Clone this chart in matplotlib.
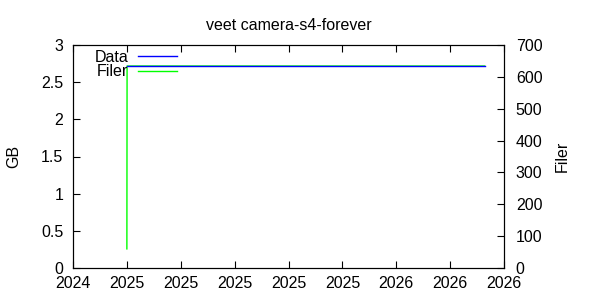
import numpy as np
import pandas as pd
import matplotlib
matplotlib.use('Agg')
import matplotlib.pyplot as plt
import matplotlib.dates as mdates

plt.rcParams['font.family'] = ['Liberation Sans', 'DejaVu Sans']
FONTSIZE = 11.5

TITLE = 'veet camera-s4-forever'
# sample times and values
dates = pd.to_datetime(['2025-02-17 00:00', '2025-02-17 06:00', '2026-04-18 00:00'])
data_gb = [2.72, 2.72, 2.72]
filer_count = [60, 634, 634]

# gnuplot-like x axis: 9 evenly spaced ticks, labelled with the year only
x_start = pd.Timestamp('2024-12-15')
x_step = pd.Timedelta(days=64)
x_ticks = [x_start + k * x_step for k in range(9)]
gb_ticks = np.arange(0, 3.01, 0.5)
filer_ticks = np.arange(0, 701, 100)

fig = plt.figure(figsize=(6, 3), dpi=100)
ax = fig.add_axes([73 / 600, 1 - 268 / 300, (504 - 73) / 600, (268 - 45) / 300])
ax2 = ax.twinx()

ax.plot(dates, data_gb, color='#0000ff', lw=1, label='Data')
ax2.plot(dates, filer_count, color='#00ff00', lw=1, label='Filer')
ax.set_zorder(ax2.get_zorder() + 1)
ax.patch.set_visible(False)

ax.set_xlim(x_ticks[0], x_ticks[-1])
ax.set_xticks(x_ticks)
ax.xaxis.set_major_formatter(mdates.DateFormatter('%Y'))
ax.set_ylim(0, 3)
ax.set_yticks(gb_ticks)
ax.set_yticklabels([f'{v:g}' for v in gb_ticks])
ax2.set_ylim(0, 700)
ax2.set_yticks(filer_ticks)

ax.tick_params(axis='x', direction='in', top=True, length=5, width=0.8,
               labelsize=FONTSIZE, pad=6)
ax.tick_params(axis='y', direction='in', right=False, length=5, width=0.8,
               labelsize=FONTSIZE, pad=7)
ax2.tick_params(axis='y', direction='in', length=5, width=0.8,
                labelsize=FONTSIZE, pad=8.5)

ax.set_ylabel('GB', fontsize=FONTSIZE, labelpad=14)
ax2.set_ylabel('Filer', fontsize=FONTSIZE, labelpad=9)
ax.set_title(TITLE, fontsize=FONTSIZE, pad=11)

h1, l1 = ax.get_legend_handles_labels()
h2, l2 = ax2.get_legend_handles_labels()
ax.legend(h1 + h2, l1 + l2, loc='upper left', bbox_to_anchor=(0.05, 0.978),
          markerfirst=False, frameon=False, fontsize=FONTSIZE,
          handlelength=2.45, handletextpad=0.6, labelspacing=-0.05,
          borderpad=0, borderaxespad=0)

fig.savefig('out.png', dpi=100)
